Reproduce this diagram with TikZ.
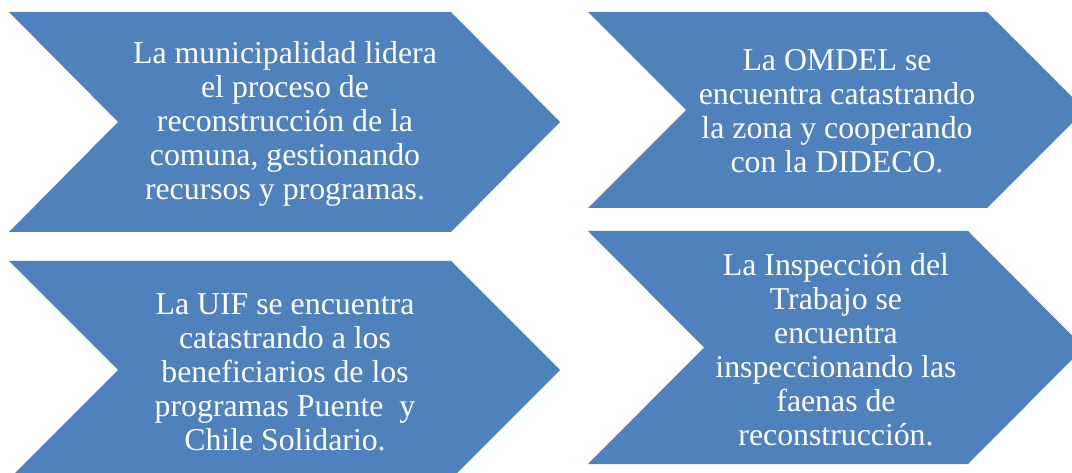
\documentclass[tikz,border=0pt]{standalone}
\usepackage{fontspec}
\setmainfont{Liberation Serif}
\definecolor{chevblue}{RGB}{79,129,189}
\begin{document}
\begin{tikzpicture}[x=1pt,y=-1pt,
  chev/.style={fill=chevblue, draw=none},
  lbl/.style={text=white, align=center, inner sep=0pt, font=\fontsize{31.8}{34}\selectfont}]
\useasboundingbox (0,0) rectangle (1072,473);
\clip (0,0) rectangle (1072,473);
% chevron 1
\fill[chev] (9,12) -- (451,12) -- (560,122) -- (451,232) -- (9,232) -- (118,122) -- cycle;
% chevron 2
\fill[chev] (588,12) -- (987,12) -- (1085,110) -- (987,208) -- (588,208) -- (686,110) -- cycle;
% chevron 3
\fill[chev] (9,261) -- (451,261) -- (560,370) -- (451,479) -- (9,479) -- (118,370) -- cycle;
% chevron 4
\fill[chev] (588,231) -- (968,231) -- (1084,347.5) -- (968,464) -- (588,464) -- (704,347.5) -- cycle;
\node[lbl] (t1) at (285,124) {La municipalidad lidera\\el proceso de\\reconstrucción de la\\comuna, gestionando\\recursos y programas.};
\node[lbl] (t2) at (837,111) {La OMDEL se\\encuentra catastrando\\la zona y cooperando\\con la DIDECO.};
\node[lbl] (t3) at (285,372) {La UIF se encuentra\\catastrando a los\\beneficiarios de los\\programas Puente\ \ y\\Chile Solidario.};
\node[lbl] (t4) at (836,350) {La Inspección del\\Trabajo se\\encuentra\\inspeccionando las\\faenas de\\reconstrucción.};
\end{tikzpicture}
\end{document}
